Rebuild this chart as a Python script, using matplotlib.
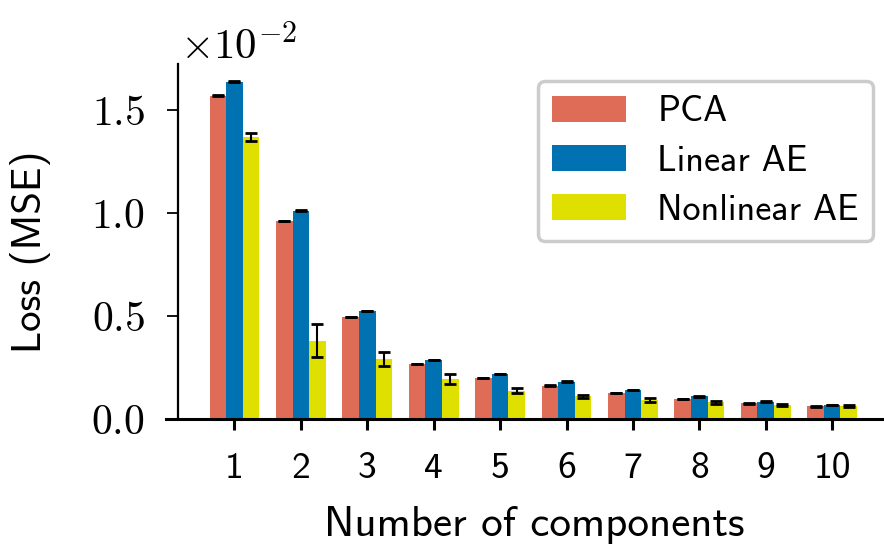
import numpy as np
import matplotlib
matplotlib.use("Agg")
import matplotlib.pyplot as plt

plt.rcParams['font.family'] = 'cmr10'
plt.rcParams['mathtext.fontset'] = 'cm'
plt.rcParams['axes.formatter.use_mathtext'] = True
sans = 'cmss10'

# MSE per number of components (mean and std over runs)
n_comp = [1, 2, 3, 4, 5, 6, 7, 8, 9, 10]
pca_mse = [1.568e-2, 0.961e-2, 0.495e-2, 0.267e-2, 0.199e-2, 0.162e-2, 0.126e-2, 0.097e-2, 0.076e-2, 0.062e-2]
lin_mse = [1.636e-2, 1.010e-2, 0.524e-2, 0.286e-2, 0.218e-2, 0.180e-2, 0.141e-2, 0.110e-2, 0.084e-2, 0.068e-2]
nonlin_mse = [1.369e-2, 0.380e-2, 0.290e-2, 0.194e-2, 0.136e-2, 0.110e-2, 0.092e-2, 0.081e-2, 0.069e-2, 0.062e-2]
pca_std = [0.002e-2] * 10
lin_std = [0.002e-2] * 10
nonlin_std = [0.018e-2, 0.080e-2, 0.035e-2, 0.023e-2, 0.012e-2, 0.007e-2, 0.008e-2, 0.006e-2, 0.005e-2, 0.005e-2]
labels = ['PCA', 'Linear AE', 'Nonlinear AE']
colores = ['#DF6C56', '#0072B2', '#DFDF00']

fig = plt.figure(figsize=(8.84, 5.5), dpi=100)
ax = fig.add_axes([0.1878, 0.2382, 0.8122, 0.6455])

x = np.array(n_comp)
w = 0.25
err_kw = dict(elinewidth=1.5, capthick=2, ecolor='black')
for k, (vals, errs) in enumerate([(pca_mse, pca_std), (lin_mse, lin_std), (nonlin_mse, nonlin_std)]):
    ax.bar(x + (k - 1) * w, vals, w, yerr=errs, capsize=4.5, color=colores[k],
           error_kw=err_kw, label=labels[k])

ax.set_xlim(-0.03, 10.78)
ax.set_ylim(0, 1.723e-2)
ax.ticklabel_format(style='sci', scilimits=(0, 0), axis='y')
ax.set_xticks(x)
ax.set_xticklabels([str(i) for i in n_comp], fontfamily=sans)
ax.set_yticks([0, 0.5e-2, 1.0e-2, 1.5e-2])

for s in ['top', 'right']:
    ax.spines[s].set_visible(False)
ax.spines['left'].set_position(('data', 0.15))
ax.spines['left'].set_linewidth(1.6)
ax.spines['bottom'].set_linewidth(2.2)
ax.tick_params(axis='y', length=8, width=1.3, pad=16, labelsize=30)
ax.tick_params(axis='x', length=8, width=2.2, pad=16, labelsize=27)
ax.yaxis.get_offset_text().set_fontsize(31)
ax.yaxis.get_offset_text().set_x(0.02)

ax.set_xlabel('Number of components', fontsize=31, fontfamily=sans)
ax.set_ylabel('Loss (MSE)', fontsize=29.5, fontfamily=sans)
ax.xaxis.set_label_coords(0.5125, -0.245)
ax.yaxis.set_label_coords(-0.16, 0.47)

leg = ax.legend(loc='upper right', bbox_to_anchor=(0.985, 0.952), borderaxespad=0,
                prop={'family': sans, 'size': 26}, fancybox=True, framealpha=1,
                edgecolor='#cccccc', handlelength=2.05, handleheight=0.72,
                handletextpad=0.85, labelspacing=0.45)
leg.get_frame().set_linewidth(2.5)

fig.savefig('out.png', dpi=100)
